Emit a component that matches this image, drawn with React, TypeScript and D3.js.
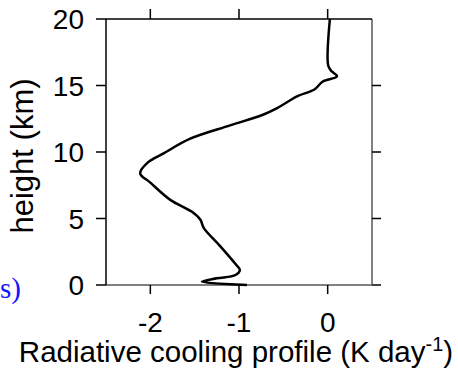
import React from "react";
import * as d3 from "d3";

const heights = [20, 16.5, 16.1, 15.7, 15.3, 14.7, 14.2, 13.3, 12.8, 12.0, 11.0, 9.9, 9.2, 8.4, 7.7, 6.4, 5.5, 4.9, 4.3, 2.9, 1.5, 1.13, 0.75, 0.5, 0.25, 0];
const cooling = [0.025, 0.006, 0.04, 0.105, -0.056, -0.15, -0.34, -0.57, -0.73, -1.1, -1.55, -1.85, -2.03, -2.115, -2.0, -1.775, -1.53, -1.435, -1.398, -1.21, -1.03, -0.99, -1.04, -1.25, -1.417, -0.91];
const xTicks = [-2, -1, 0];
const yTicks = [0, 5, 10, 15, 20];

const W = 458, H = 377;
const L = 106, R = 372, T = 19, B = 285;

export default function App() {
  const x = d3.scaleLinear().domain([-2.5, 0.5]).range([L, R]);
  const y = d3.scaleLinear().domain([0, 20]).range([B, T]);
  const pts = heights.map((h, i) => [cooling[i], h] as [number, number]);
  const line = d3.line<[number, number]>().x(d => x(d[0])).y(d => y(d[1])).curve(d3.curveCatmullRom.alpha(0.5));
  const font = "Liberation Sans, Arial, sans-serif";
  return (
    <svg width={W} height={H} style={{ position: "absolute", left: 0, top: 0 }} fontFamily={font}>
      <rect width={W} height={H} fill="white" />
      <text x={0} y={298} fontFamily="Liberation Serif, Times New Roman, serif" fontSize={29} fill="#1414ff">s)</text>
      <line x1={R} x2={R} y1={T} y2={B} stroke="#808080" strokeWidth={2} />
      <line x1={L} x2={R} y1={B} y2={B} stroke="#808080" strokeWidth={2} />
      <line x1={L} x2={L} y1={T} y2={B} stroke="black" strokeWidth={1.5} />
      <line x1={L} x2={R} y1={T} y2={T} stroke="black" strokeWidth={1.5} />
      {yTicks.map(t => (
        <g key={"y" + t}>
          <line x1={L - 10} x2={L} y1={y(t)} y2={y(t)} stroke="black" strokeWidth={1.5} />
          {t < 20 && <line x1={R} x2={R + 9} y1={y(t)} y2={y(t)} stroke="black" strokeWidth={1.5} />}
          <text x={L - 22} y={y(t)} dy="0.36em" textAnchor="end" fontSize={28}>{t}</text>
        </g>
      ))}
      {xTicks.map(t => (
        <g key={"x" + t}>
          <line x1={x(t)} x2={x(t)} y1={B} y2={B + 9} stroke="black" strokeWidth={1.5} />
          <line x1={x(t)} x2={x(t)} y1={T} y2={T - 10} stroke="black" strokeWidth={1.5} />
          <text x={x(t)} y={332} textAnchor="middle" fontSize={28}>{t}</text>
        </g>
      ))}
      <path d={line(pts) || ""} fill="none" stroke="black" strokeWidth={2.5} strokeLinejoin="round" />
      <text transform={`translate(33,156) rotate(-90)`} textAnchor="middle" fontSize={31}>height (km)</text>
      <text x={(L + R) / 2 - 3} y={362} textAnchor="middle" fontSize={29.5}>
        Radiative cooling profile (K day<tspan dy={-11} fontSize={20}>-1</tspan><tspan dy={11}>)</tspan>
      </text>
    </svg>
  );
}
